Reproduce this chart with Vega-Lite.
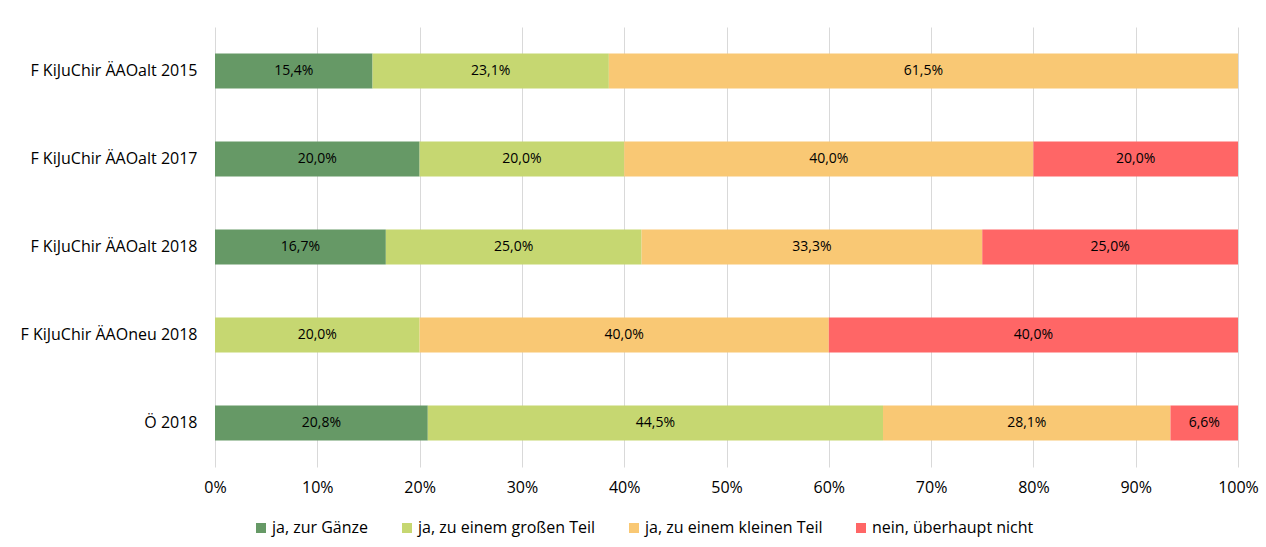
{
  "$schema": "https://vega.github.io/schema/vega-lite/v6.json",
  "width": 1023,
  "height": 440,
  "autosize": {"type": "none"},
  "padding": {"left": 215, "top": 27, "right": 28, "bottom": 80},
  "background": "white",
  "config": {
    "font": "Open Sans",
    "view": {"stroke": null},
    "locale": {"number": {"decimal": ",", "thousands": ".", "grouping": [3], "currency": ["", " €"]}}
  },
  "data": {
    "values": [
      {"g": "F KiJuChir ÄAOalt 2015", "k": "ja, zur Gänze", "o": 1, "v": 0.154},
      {"g": "F KiJuChir ÄAOalt 2015", "k": "ja, zu einem großen Teil", "o": 2, "v": 0.231},
      {"g": "F KiJuChir ÄAOalt 2015", "k": "ja, zu einem kleinen Teil", "o": 3, "v": 0.615},
      {"g": "F KiJuChir ÄAOalt 2017", "k": "ja, zur Gänze", "o": 1, "v": 0.2},
      {"g": "F KiJuChir ÄAOalt 2017", "k": "ja, zu einem großen Teil", "o": 2, "v": 0.2},
      {"g": "F KiJuChir ÄAOalt 2017", "k": "ja, zu einem kleinen Teil", "o": 3, "v": 0.4},
      {"g": "F KiJuChir ÄAOalt 2017", "k": "nein, überhaupt nicht", "o": 4, "v": 0.2},
      {"g": "F KiJuChir ÄAOalt 2018", "k": "ja, zur Gänze", "o": 1, "v": 0.167},
      {"g": "F KiJuChir ÄAOalt 2018", "k": "ja, zu einem großen Teil", "o": 2, "v": 0.25},
      {"g": "F KiJuChir ÄAOalt 2018", "k": "ja, zu einem kleinen Teil", "o": 3, "v": 0.333},
      {"g": "F KiJuChir ÄAOalt 2018", "k": "nein, überhaupt nicht", "o": 4, "v": 0.25},
      {"g": "F KiJuChir ÄAOneu 2018", "k": "ja, zu einem großen Teil", "o": 2, "v": 0.2},
      {"g": "F KiJuChir ÄAOneu 2018", "k": "ja, zu einem kleinen Teil", "o": 3, "v": 0.4},
      {"g": "F KiJuChir ÄAOneu 2018", "k": "nein, überhaupt nicht", "o": 4, "v": 0.4},
      {"g": "Ö 2018", "k": "ja, zur Gänze", "o": 1, "v": 0.208},
      {"g": "Ö 2018", "k": "ja, zu einem großen Teil", "o": 2, "v": 0.445},
      {"g": "Ö 2018", "k": "ja, zu einem kleinen Teil", "o": 3, "v": 0.281},
      {"g": "Ö 2018", "k": "nein, überhaupt nicht", "o": 4, "v": 0.066}
    ]
  },
  "encoding": {
    "y": {
      "field": "g",
      "type": "nominal",
      "sort": null,
      "scale": {"paddingInner": 0.6, "paddingOuter": 0.3},
      "axis": {"title": null, "ticks": false, "domain": false, "labelFontSize": 16, "labelColor": "#000000", "labelPadding": 18, "labelLimit": 300}
    }
  },
  "layer": [
    {
      "mark": {"type": "bar"},
      "encoding": {
        "x": {
          "field": "v",
          "type": "quantitative",
          "stack": "zero",
          "scale": {"domain": [0, 1], "nice": false},
          "axis": {"title": null, "format": ".0%", "values": [0,0.1,0.2,0.3,0.4,0.5,0.6,0.7,0.8,0.9,1], "labelOverlap": false, "grid": true, "gridColor": "#d9d9d9", "gridWidth": 1, "domain": false, "ticks": false, "labelFontSize": 16, "labelColor": "#000000", "labelPadding": 12, "labelFlush": false}
        },
        "color": {
          "field": "k",
          "type": "nominal",
          "scale": {
            "domain": ["ja, zur Gänze", "ja, zu einem großen Teil", "ja, zu einem kleinen Teil", "nein, überhaupt nicht"],
            "range": ["#669966", "#c6d771", "#f9c874", "#ff6666"]
          },
          "legend": {
            "title": null,
            "orient": "none",
            "direction": "horizontal",
            "columns": 4,
            "legendX": 38,
            "legendY": 493,
            "symbolType": "square",
            "symbolSize": 100,
            "symbolStrokeWidth": 0,
            "labelFontSize": 16,
            "labelColor": "#000000",
            "labelOffset": 3,
            "columnPadding": 30,
            "labelLimit": 300
          }
        },
        "order": {"field": "o", "type": "quantitative"}
      }
    },
    {
      "mark": {"type": "text", "fontSize": 14, "color": "#000000", "baseline": "middle", "align": "center"},
      "encoding": {
        "x": {"field": "v", "type": "quantitative", "stack": "zero", "bandPosition": 0.5},
        "detail": {"field": "k"},
        "order": {"field": "o", "type": "quantitative"},
        "text": {"field": "v", "type": "quantitative", "format": ".1%"}
      }
    }
  ]
}
